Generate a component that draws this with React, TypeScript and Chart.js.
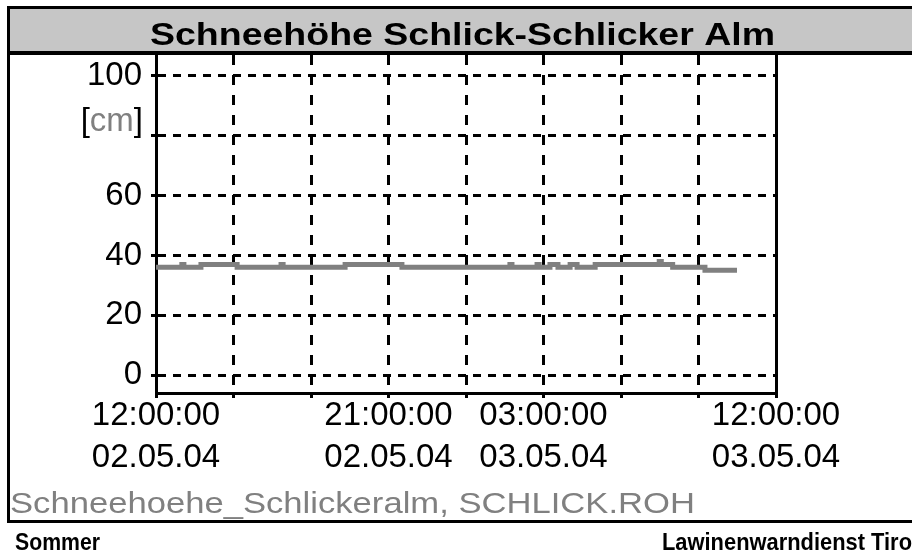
import React, { useEffect, useRef } from "react";
import { Chart, registerables } from "chart.js";

Chart.register(...registerables);

// ---- data ----
const TITLE = "Schneehöhe Schlick-Schlicker Alm";
const LEGEND_TEXT = "Schneehoehe_Schlickeralm, SCHLICK.ROH";
const UNIT_TEXT = ["[", "cm", "]"];
const FOOTER_LEFT = "Sommer";
const FOOTER_RIGHT = "Lawinenwarndienst Tirol";

const X_TICK_HOURS = [0, 3, 6, 9, 12, 15, 18, 21, 24];
const X_LABEL_HOURS = [0, 9, 15, 24];
const X_LABEL_TIMES = ["12:00:00", "21:00:00", "03:00:00", "12:00:00"];
const X_LABEL_DATES = ["02.05.04", "02.05.04", "03.05.04", "03.05.04"];

const Y_TICKS = [0, 20, 40, 60, 80, 100];
const Y_TICK_LABELS = ["0", "20", "40", "60", "", "100"];

// hours after 02.05.04 12:00 (step change points) and snow depth [cm]
const HOURS = [
  0, 1.0, 1.08, 1.74, 3.14, 4.84, 4.92, 7.32, 9.52, 13.7, 13.78, 14.75, 14.83,
  15.25, 15.56, 16.03, 16.3, 17.0, 19.48, 19.56, 20.0, 21.25, 22.49,
];
const SNOW = [
  36, 37, 36, 37, 36, 37, 36, 37, 36, 37, 36, 37, 36,
  37, 36, 37, 36, 37, 38, 37, 36, 35, 35,
];

const FONT = "'Liberation Sans', Arial, sans-serif";

function stretchText(
  ctx: CanvasRenderingContext2D,
  text: string,
  x: number,
  y: number,
  targetW: number,
  align: "left" | "center"
) {
  const w = ctx.measureText(text).width;
  const s = targetW / w;
  ctx.save();
  ctx.translate(x, y);
  ctx.scale(s, 1);
  ctx.textAlign = "left";
  ctx.textBaseline = "alphabetic";
  ctx.fillText(text, align === "center" ? -w / 2 : 0, 0);
  ctx.restore();
}

const framePlugin = {
  id: "framePlugin",
  beforeDraw(chart: any) {
    const ctx: CanvasRenderingContext2D = chart.ctx;
    ctx.save();
    ctx.fillStyle = "#ffffff";
    ctx.fillRect(0, 0, chart.width, chart.height);
    // title bar
    ctx.fillStyle = "#c6c6c6";
    ctx.fillRect(10, 9, 902, 42);
    ctx.fillStyle = "#000000";
    ctx.font = `bold 32px ${FONT}`;
    stretchText(ctx, TITLE, 462.5, 45, 625, "center");
    ctx.restore();
  },
  afterDraw(chart: any) {
    const ctx: CanvasRenderingContext2D = chart.ctx;
    const area = chart.chartArea;
    ctx.save();
    ctx.fillStyle = "#000000";
    // outer box
    ctx.fillRect(7, 6, 905, 3); // top
    ctx.fillRect(7, 6, 3, 517); // left
    ctx.fillRect(7, 520, 905, 3); // bottom
    ctx.fillRect(7, 51, 905, 4); // title separator
    // right border of plot
    ctx.fillRect(area.right - 1, 55, 3, area.bottom - 55 + 1);

    // unit label [cm]
    ctx.font = `33px ${FONT}`;
    ctx.textBaseline = "alphabetic";
    ctx.textAlign = "left";
    const widths = UNIT_TEXT.map((t) => ctx.measureText(t).width);
    const total = widths.reduce((a, b) => a + b, 0);
    let x = 143 - total;
    UNIT_TEXT.forEach((t, i) => {
      ctx.fillStyle = i === 1 ? "#808080" : "#000000";
      ctx.fillText(t, x, 131);
      x += widths[i];
    });

    // legend text
    ctx.fillStyle = "#808080";
    ctx.font = `29px ${FONT}`;
    stretchText(ctx, LEGEND_TEXT, 10, 513, 685, "left");

    // footer
    ctx.fillStyle = "#000000";
    ctx.font = `bold 24px ${FONT}`;
    stretchText(ctx, FOOTER_LEFT, 15, 550, 85, "left");
    const wPart = ctx.measureText(FOOTER_RIGHT.slice(0, -1)).width;
    const sR = 250 / wPart;
    stretchText(ctx, FOOTER_RIGHT, 662, 550, ctx.measureText(FOOTER_RIGHT).width * sR, "left");
    ctx.restore();
  },
};

export default function App() {
  const canvasRef = useRef<HTMLCanvasElement | null>(null);

  useEffect(() => {
    if (!canvasRef.current) return;
    const points = HOURS.map((h, i) => ({ x: h, y: SNOW[i] }));
    const chart = new Chart(canvasRef.current, {
      type: "line",
      data: {
        datasets: [
          {
            data: points,
            borderColor: "#808080",
            backgroundColor: "#808080",
            borderWidth: 5,
            pointRadius: 0,
            stepped: true,
            borderCapStyle: "butt",
            borderJoinStyle: "miter",
            fill: false,
          },
        ],
      },
      options: {
        responsive: false,
        animation: false,
        devicePixelRatio: 1,
        layout: { padding: { left: 0, top: 55, right: 136, bottom: 59 } },
        plugins: {
          legend: { display: false },
          title: { display: false },
          tooltip: { enabled: false },
        },
        scales: {
          x: {
            type: "linear",
            min: 0,
            max: 24,
            afterBuildTicks: (scale: any) => {
              scale.ticks = X_TICK_HOURS.map((v) => ({ value: v }));
            },
            afterFit: (scale: any) => {
              scale.height = 100;
            },
            grid: {
              color: "#000000",
              lineWidth: 3,
              drawTicks: true,
              tickLength: 5,
              tickColor: "#000000",
              tickWidth: 3,
              tickBorderDash: [],
            },
            border: { display: true, color: "#000000", width: 3, dash: [10, 10] },
            ticks: {
              autoSkip: false,
              maxRotation: 0,
              minRotation: 0,
              padding: -3,
              color: "#000000",
              font: { family: FONT, size: 33, lineHeight: 1.27 },
              callback: (value: any) => {
                const idx = X_LABEL_HOURS.indexOf(Number(value));
                if (idx < 0) return "";
                return [X_LABEL_TIMES[idx], X_LABEL_DATES[idx]];
              },
            },
          },
          y: {
            type: "linear",
            min: -6,
            max: 107,
            afterBuildTicks: (scale: any) => {
              scale.ticks = Y_TICKS.map((v) => ({ value: v }));
            },
            afterFit: (scale: any) => {
              scale.width = 156;
            },
            grid: {
              color: "#000000",
              lineWidth: 3,
              drawTicks: true,
              tickLength: 5,
              tickColor: "#000000",
              tickWidth: 3,
              tickBorderDash: [],
            },
            border: { display: true, color: "#000000", width: 3, dash: [8, 7] },
            ticks: {
              padding: 9,
              color: "#000000",
              font: { family: FONT, size: 33 },
              callback: (value: any) => {
                const idx = Y_TICKS.indexOf(Number(value));
                return idx < 0 ? "" : Y_TICK_LABELS[idx];
              },
            },
          },
        },
      },
      plugins: [framePlugin],
    } as any);
    return () => chart.destroy();
  }, []);

  return (
    <div style={{ position: "absolute", left: 0, top: 0, width: 912, height: 552, background: "#fff" }}>
      <canvas ref={canvasRef} width={912} height={552} style={{ display: "block", width: 912, height: 552 }} />
    </div>
  );
}
